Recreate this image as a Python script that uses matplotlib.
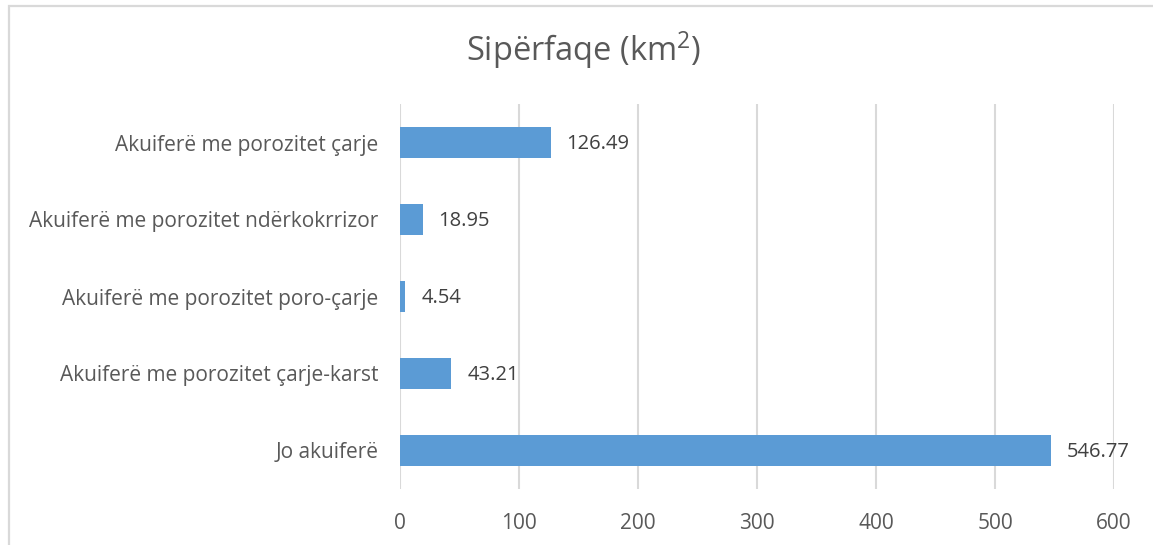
import matplotlib
matplotlib.use("Agg")
import matplotlib.pyplot as plt
from matplotlib.patches import Rectangle

categories = [
    "Jo akuiferë",
    "Akuiferë me porozitet çarje-karst",
    "Akuiferë me porozitet poro-çarje",
    "Akuiferë me porozitet ndërkokrrizor",
    "Akuiferë me porozitet çarje",
]
values = [546.77, 43.21, 4.54, 18.95, 126.49]
value_labels = ["546.77", "43.21", "4.54", "18.95", "126.49"]
xticks = [0, 100, 200, 300, 400, 500, 600]
title = "Sipërfaqe (km$^2$)"

W, H = 1153, 545
plt.rcParams["font.family"] = ["Open Sans", "DejaVu Sans"]
plt.rcParams["mathtext.default"] = "regular"

fig = plt.figure(figsize=(W / 100, H / 100), dpi=100)
fig.patch.set_facecolor("white")

# chart frame (top-left corner visible, rest runs off the canvas)
fig.patches.append(Rectangle((8.5 / W, -0.1), 1.2, (H - 5.5) / H + 0.1,
                             transform=fig.transFigure, fill=False,
                             edgecolor="#d9d9d9", linewidth=1.6))

ax = fig.add_axes([400 / W, (H - 489) / H, (1114 - 400) / W, (489 - 104) / H])
y = list(range(len(categories)))
ax.barh(y, values, height=0.39, color="#5b9bd5", zorder=3)
ax.set_xlim(0, 600)
ax.set_ylim(-0.5, len(categories) - 0.5)
ax.set_xticks(xticks)
ax.set_xticklabels([str(t) for t in xticks])
ax.set_yticks(y)
ax.set_yticklabels(categories)
ax.tick_params(axis="both", length=0, labelsize=15, labelcolor="#595959")
ax.tick_params(axis="x", pad=17)
ax.tick_params(axis="y", pad=15.5)
for s in ax.spines.values():
    s.set_visible(False)
ax.xaxis.grid(True, color="#d9d9d9", linewidth=1.5, zorder=0)
ax.set_axisbelow(True)

for yi, v, lab in zip(y, values, value_labels):
    ax.annotate(lab, (v, yi), xytext=(11.5, -1.2), textcoords="offset points",
                va="center", ha="left", fontsize=14.5, color="#404040")

fig.text(584 / W, 1 - 50 / H, title, ha="center", va="center",
         fontsize=23.5, color="#595959")

fig.savefig("out.png", dpi=100)
